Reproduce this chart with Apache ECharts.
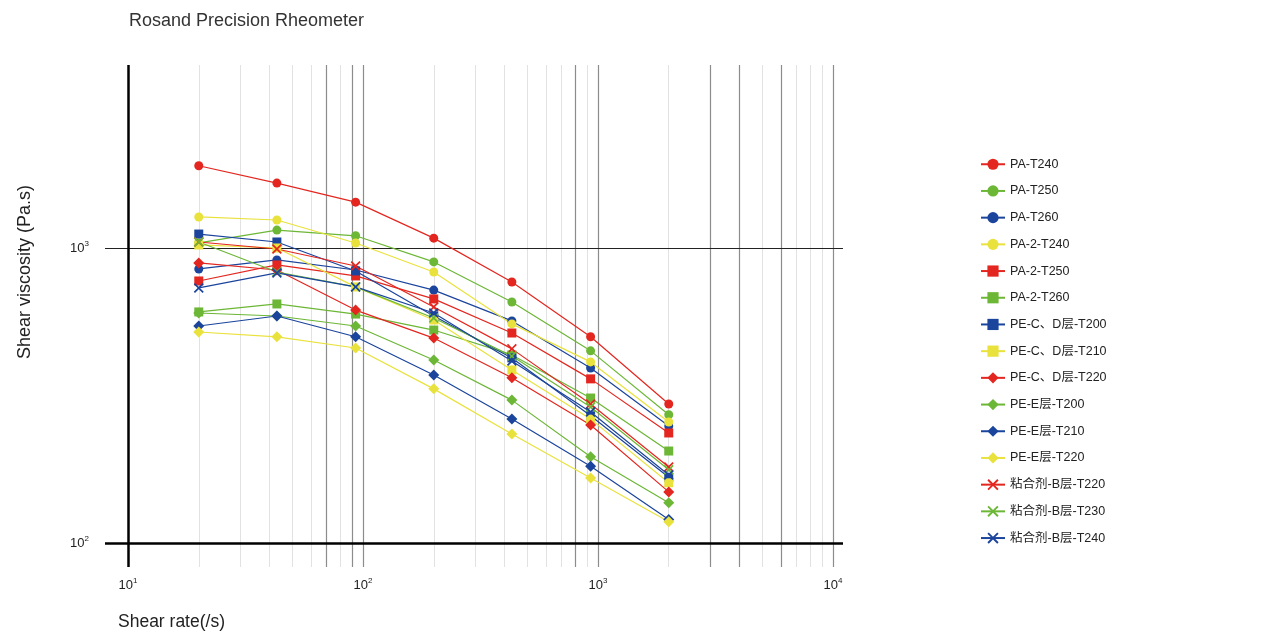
<!DOCTYPE html>
<html lang="en">
<head>
    <meta charset="UTF-8">
    <title>Rosand Precision Rheometer</title>
    <script src="https://cdn.jsdelivr.net/npm/echarts@6.0.0/dist/echarts.min.js"></script>
    <style>
        html, body { margin: 0; padding: 0; background: #fff; }
    </style>
</head>
<body>

    <div id="main" style="width:1280px; height:635px;"></div>

    <script>
        // shear rate (1/s)
        var shearRates = [20, 43, 93, 200, 430, 930, 2000];

        // shear viscosity (Pa.s)
        var paT240    = [1900, 1660, 1430, 1080, 767, 500, 296];
        var paT250    = [1040, 1150, 1100, 897, 656, 448, 272];
        var paT260    = [849, 911, 842, 720, 566, 392, 249];
        var pa2T240   = [1274, 1244, 1040, 829, 553, 411, 257];
        var pa2T250   = [773, 876, 804, 672, 515, 360, 236];
        var pa2T260   = [607, 646, 597, 527, 434, 310, 205];
        var peCdT200  = [1115, 1048, 836, 588, 424, 270, 167];
        var peCdT210  = [1024, 1000, 738, 570, 386, 263, 160];
        var peCdT220  = [890, 842, 616, 495, 363, 251, 149];
        var peET200   = [602, 588, 544, 417, 305, 196, 137];
        var peET210   = [544, 588, 500, 371, 263, 182, 120];
        var peET220   = [519, 500, 458, 333, 234, 166, 118];
        var bT220     = [1048, 992, 869, 631, 455, 296, 181];
        var bT230     = [1048, 829, 738, 579, 430, 289, 177];
        var bT240     = [732, 823, 738, 602, 414, 278, 170];

        var xTicks = [10, 100, 1000, 10000];
        var yTicks = [100, 1000];
        var gridLight = [20, 30, 40, 50, 60, 80, 200, 300, 400, 500, 600, 700, 900, 2000, 5000, 7000, 8000, 9000];
        var gridDark = [70, 90, 100, 800, 1000, 3000, 4000, 6000, 10000];

        var RED = '#e3261f', GREEN = '#6cb736', BLUE = '#1b449c', YELLOW = '#e9e23c';
        var CROSS = 'path://M0,1.2L1.2,0L5,3.8L8.8,0L10,1.2L6.2,5L10,8.8L8.8,10L5,6.2L1.2,10L0,8.8L3.8,5Z';

        var seriesDefs = [
            ['PA-T240', paT240, RED, 'circle'],
            ['PA-T250', paT250, GREEN, 'circle'],
            ['PA-T260', paT260, BLUE, 'circle'],
            ['PA-2-T240', pa2T240, YELLOW, 'circle'],
            ['PA-2-T250', pa2T250, RED, 'rect'],
            ['PA-2-T260', pa2T260, GREEN, 'rect'],
            ['PE-C、D层-T200', peCdT200, BLUE, 'rect'],
            ['PE-C、D层-T210', peCdT210, YELLOW, 'rect'],
            ['PE-C、D层-T220', peCdT220, RED, 'diamond'],
            ['PE-E层-T200', peET200, GREEN, 'diamond'],
            ['PE-E层-T210', peET210, BLUE, 'diamond'],
            ['PE-E层-T220', peET220, YELLOW, 'diamond'],
            ['粘合剂-B层-T220', bT220, RED, CROSS],
            ['粘合剂-B层-T230', bT230, GREEN, CROSS],
            ['粘合剂-B层-T240', bT240, BLUE, CROSS]
        ];

        var FONT = '"Liberation Sans", "Noto Sans CJK SC", Arial, sans-serif';

        function powLabel(v) {
            var e = Math.round(Math.log(v) / Math.LN10);
            return '{b|10}{s|' + e + '}';
        }
        var labelRich = {
            b: { fontSize: 13, color: '#222', fontFamily: FONT },
            s: { fontSize: 8, color: '#222', fontFamily: FONT, padding: [0, 0, 8, 0] }
        };

        // grid lines and the crossing axis lines
        var lines = [];
        gridLight.forEach(function (v) {
            lines.push({ xAxis: v, lineStyle: { color: '#e2e2e2', width: 1, type: 'solid' } });
        });
        gridDark.forEach(function (v) {
            lines.push({ xAxis: v, lineStyle: { color: '#8c8c8c', width: 1.2, type: 'solid' } });
        });
        lines.push({ yAxis: 1000, lineStyle: { color: '#222', width: 1, type: 'solid' } });
        lines.push({ xAxis: 10, lineStyle: { color: '#000', width: 2.5, type: 'solid' } });
        lines.push({ yAxis: 100, lineStyle: { color: '#000', width: 2.5, type: 'solid' } });

        var series = [{
            name: 'grid',
            type: 'line',
            data: [],
            z: 0,
            silent: true,
            markLine: {
                silent: true,
                z: 0,
                symbol: 'none',
                label: { show: false },
                animation: false,
                data: lines
            }
        }];

        seriesDefs.forEach(function (d) {
            series.push({
                name: d[0],
                type: 'line',
                z: 6,
                symbol: d[3],
                symbolSize: d[3] === 'diamond' ? 11 : (d[3] === CROSS ? 10 : 9),
                showSymbol: true,
                color: d[2],
                lineStyle: { width: 1.2, color: d[2] },
                itemStyle: { color: d[2] },
                data: shearRates.map(function (x, i) { return [x, d[1][i]]; })
            });
        });

        var charts = echarts.init(document.getElementById('main'));

        var options = {
            animation: false,
            backgroundColor: '#fff',
            title: {
                text: 'Rosand Precision Rheometer',
                left: 124,
                top: 7,
                textStyle: { fontSize: 18, fontWeight: 'normal', color: '#333', fontFamily: FONT }
            },
            legend: {
                data: seriesDefs.map(function (d) { return d[0]; }),
                orient: 'vertical',
                left: 975,
                top: 153,
                itemWidth: 24,
                itemHeight: 14,
                itemGap: 14.2,
                textStyle: { fontSize: 12.5, color: '#222', fontFamily: FONT }
            },
            grid: {
                left: 105,
                right: 437,
                top: 65,
                bottom: 68,
                containLabel: false
            },
            xAxis: {
                type: 'log',
                logBase: 10,
                min: 7.98,
                max: 11030,
                axisLine: { show: false },
                axisTick: { show: false },
                splitLine: { show: false },
                axisLabel: {
                    customValues: xTicks,
                    margin: 10,
                    formatter: powLabel,
                    rich: labelRich
                }
            },
            yAxis: {
                type: 'log',
                logBase: 10,
                min: 82.9,
                max: 4172,
                axisLine: { show: false },
                axisTick: { show: false },
                splitLine: { show: false },
                axisLabel: {
                    customValues: yTicks,
                    margin: 16,
                    formatter: powLabel,
                    rich: labelRich
                }
            },
            graphic: [
                {
                    type: 'text',
                    x: 118,
                    y: 622,
                    style: {
                        text: 'Shear rate(/s)', fontSize: 17.5, fill: '#222', fontFamily: FONT,
                        textVerticalAlign: 'middle'
                    }
                },
                {
                    type: 'text',
                    x: 25,
                    y: 272,
                    rotation: Math.PI / 2,
                    style: {
                        text: 'Shear viscosity (Pa.s)', fontSize: 18, fill: '#222', fontFamily: FONT,
                        textAlign: 'center', textVerticalAlign: 'middle'
                    }
                }
            ],
            series: series
        };

        charts.setOption(options);
    </script>
</body>
</html>
